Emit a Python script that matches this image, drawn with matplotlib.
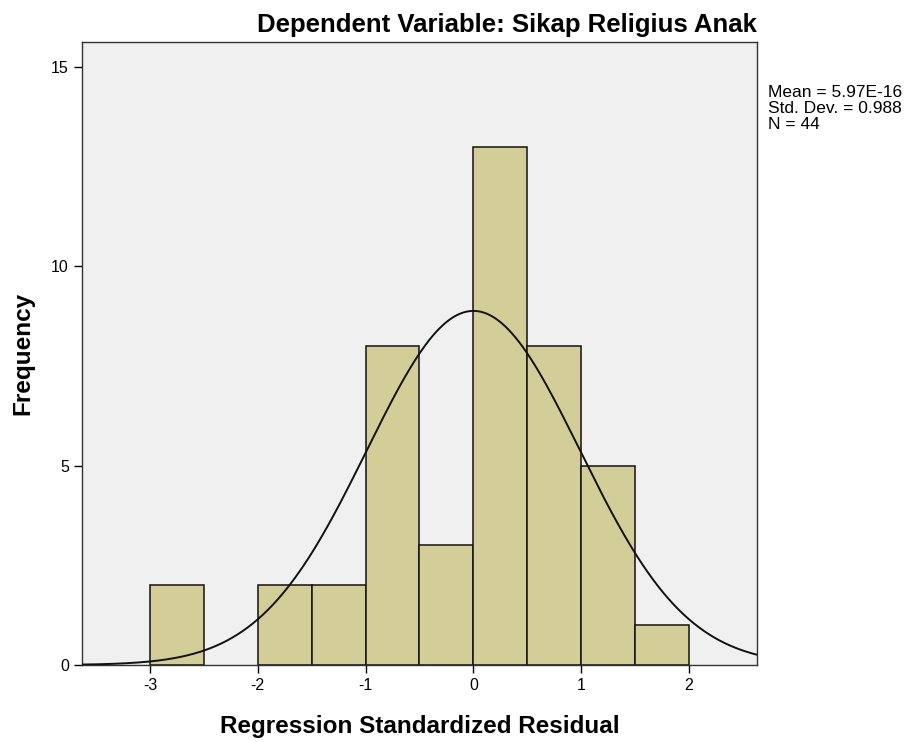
import numpy as np
import matplotlib.pyplot as plt

plt.rcParams['font.family'] = ['Liberation Sans', 'DejaVu Sans']
plt.rcParams['axes.unicode_minus'] = False

# histogram bins and counts (width 0.5)
bin_edges = [-3.0, -2.5, -2.0, -1.5, -1.0, -0.5, 0.0, 0.5, 1.0, 1.5, 2.0]
counts = [2, 0, 2, 2, 8, 3, 13, 8, 5, 1]
mean = 5.97e-16
std = 0.988
n = 44

fig = plt.figure(figsize=(9.12, 7.42), dpi=100)
ax = fig.add_axes([0.0899, 0.1038, 0.7401, 0.8396])
ax.set_facecolor('#f0f0f0')

lefts = bin_edges[:-1]
widths = np.diff(bin_edges)
for l, w, c in zip(lefts, widths, counts):
    if c > 0:
        ax.bar(l, c, width=w, align='edge', color='#d3ce97',
               edgecolor='#111111', linewidth=1.1, zorder=2)

# normal curve scaled to counts
bw = 0.5
xs = np.linspace(-3.7, 2.7, 400)
ys = n * bw / (std * np.sqrt(2 * np.pi)) * np.exp(-0.5 * ((xs - mean) / std) ** 2)
ax.plot(xs, ys, color='#111111', linewidth=1.4, zorder=3)

ax.set_xlim(-3.63, 2.63)
ax.set_ylim(0, 15.63)
ax.set_xticks([-3, -2, -1, 0, 1, 2])
ax.set_yticks([0, 5, 10, 15])
ax.tick_params(direction='out', length=6, width=1, labelsize=11.5, colors='black')
for s in ax.spines.values():
    s.set_color('#333333')
    s.set_linewidth(1.0)

ax.set_title('Dependent Variable: Sikap Religius Anak', loc='right',
             fontsize=18.5, fontweight='bold', pad=7)
ax.set_xlabel('Regression Standardized Residual', fontsize=17.5,
              fontweight='bold', labelpad=16)
ax.set_ylabel('Frequency', fontsize=17.5, fontweight='bold', labelpad=12)

fig.text(0.842, 0.886, 'Mean = 5.97E-16\nStd. Dev. = 0.988\nN = 44',
         fontsize=12.5, va='top', ha='left', linespacing=1.08)

fig.savefig('out.png', dpi=100, facecolor='white')
